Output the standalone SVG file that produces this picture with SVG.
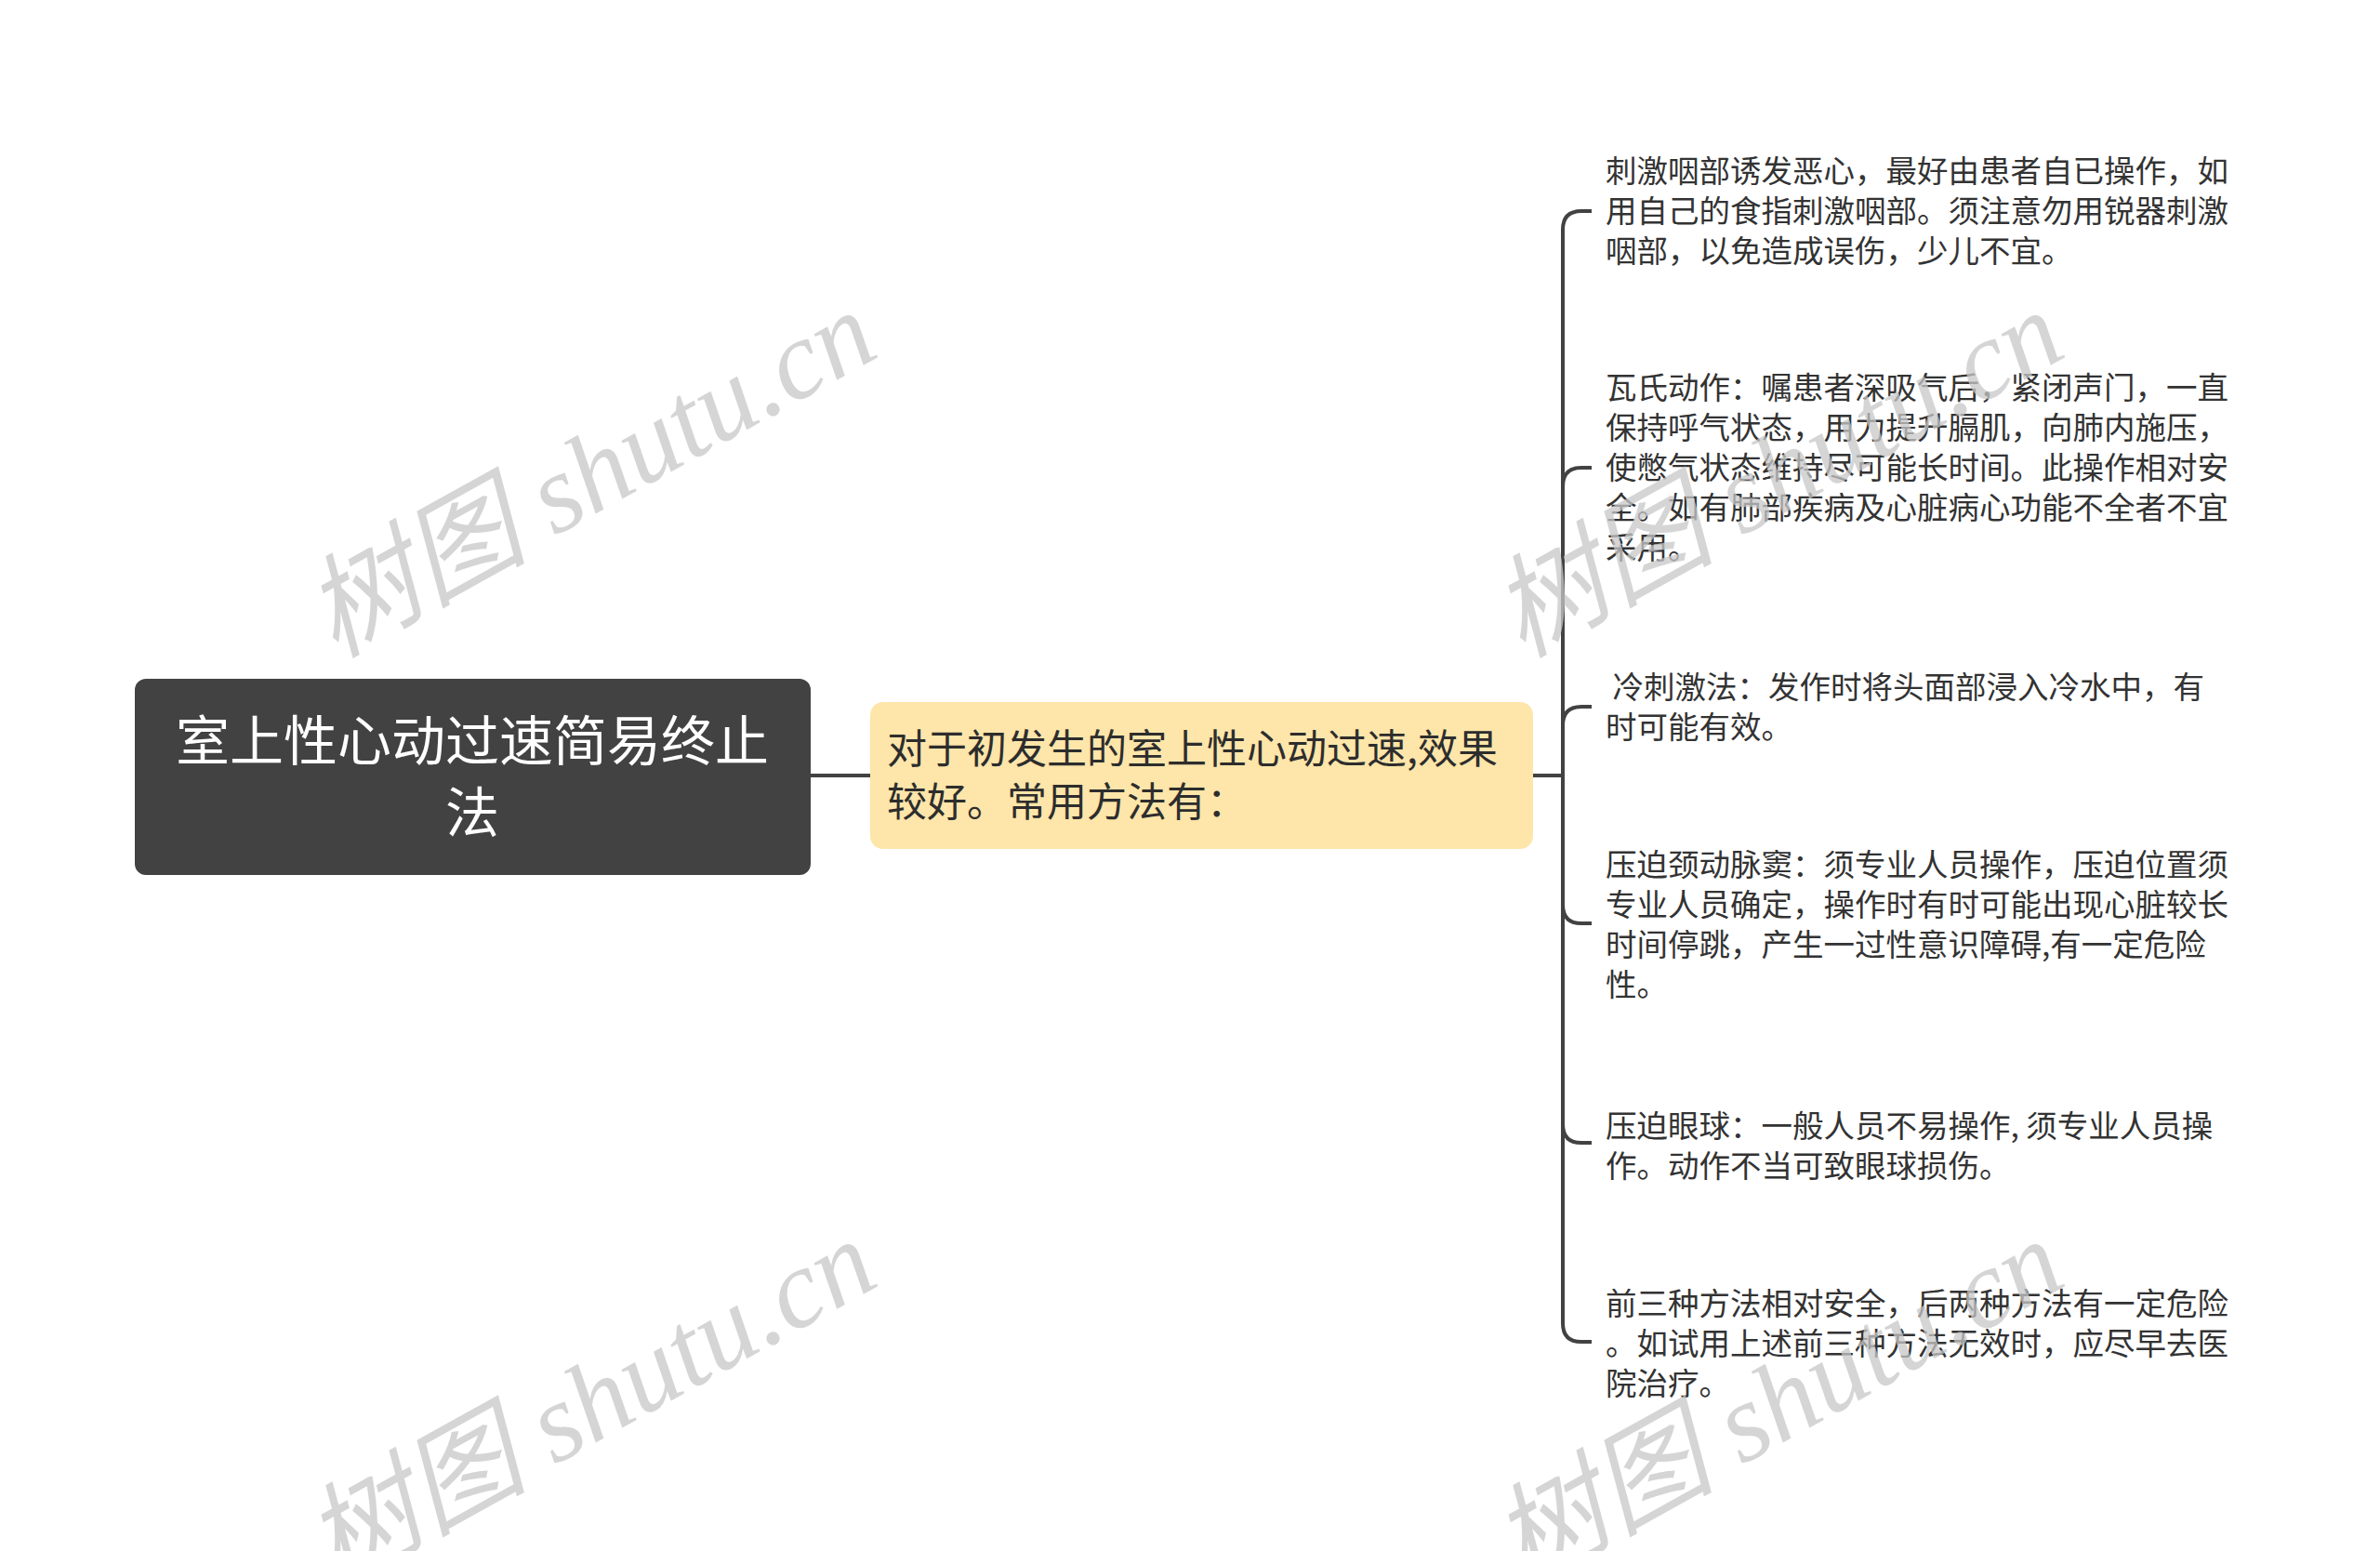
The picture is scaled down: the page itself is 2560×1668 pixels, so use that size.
<svg xmlns="http://www.w3.org/2000/svg" width="2560" height="1668" viewBox="0 0 2560 1668">
<style>
.cjk{font-family:"Noto Sans CJK SC","Liberation Sans",sans-serif;}
.root-box{fill:#424242;}
.root-txt{fill:#ffffff;font-size:58px;}
.sub-box{fill:#fee5a9;}
.sub-txt{fill:#2d2d2d;font-size:43px;}
.leaf-txt{fill:#333333;font-size:33.5px;}
.conn{fill:none;stroke:#424242;stroke-width:4;stroke-linecap:butt;}
.wm{font-family:"Liberation Serif","Noto Sans CJK SC",serif;font-style:italic;font-size:120px;fill:#c8c8c8;opacity:0.75;}
</style>
<rect width="2560" height="1668" fill="#ffffff"/>
<g id="connectors">
<path class="conn" d="M872 834 H936"/>
<path class="conn" d="M1649 834 H1681"/>
<path class="conn" d="M1681 834 V247 Q1681 227 1701 227 H1712"/>
<path class="conn" d="M1681 834 V523 Q1681 503 1701 503 H1712"/>
<path class="conn" d="M1681 834 V780 Q1681 760 1701 760 H1712"/>
<path class="conn" d="M1681 834 V973 Q1681 993 1701 993 H1712"/>
<path class="conn" d="M1681 834 V1209 Q1681 1229 1701 1229 H1712"/>
<path class="conn" d="M1681 834 V1423 Q1681 1443 1701 1443 H1712"/>
</g>
<g id="root">
<rect class="root-box" x="145" y="730" width="727" height="211" rx="12"/>
<text class="cjk root-txt" text-anchor="middle" x="508" y="818">室上性心动过速简易终止</text>
<text class="cjk root-txt" text-anchor="middle" x="508" y="895">法</text>
</g>
<g id="main">
<rect class="sub-box" x="936" y="755" width="713" height="158" rx="14"/>
<text class="cjk sub-txt" x="954" y="821">对于初发生的室上性心动过速,效果</text>
<text class="cjk sub-txt" x="954" y="878">较好。常用方法有：</text>
</g>
<g id="leaf1">
<text class="cjk leaf-txt" x="1727" y="196">刺激咽部诱发恶心，最好由患者自已操作，如</text>
<text class="cjk leaf-txt" x="1727" y="239">用自己的食指刺激咽部。须注意勿用锐器刺激</text>
<text class="cjk leaf-txt" x="1727" y="282">咽部，以免造成误伤，少儿不宜。</text>
</g>
<g id="leaf2">
<text class="cjk leaf-txt" x="1727" y="429">瓦氏动作：嘱患者深吸气后，紧闭声门，一直</text>
<text class="cjk leaf-txt" x="1727" y="472">保持呼气状态，用力提升膈肌，向肺内施压，</text>
<text class="cjk leaf-txt" x="1727" y="515">使憋气状态维持尽可能长时间。此操作相对安</text>
<text class="cjk leaf-txt" x="1727" y="558">全。如有肺部疾病及心脏病心功能不全者不宜</text>
<text class="cjk leaf-txt" x="1727" y="601">采用。</text>
</g>
<g id="leaf3">
<text class="cjk leaf-txt" x="1727" y="751" xml:space="preserve"> 冷刺激法：发作时将头面部浸入冷水中，有</text>
<text class="cjk leaf-txt" x="1727" y="794">时可能有效。</text>
</g>
<g id="leaf4">
<text class="cjk leaf-txt" x="1727" y="942">压迫颈动脉窦：须专业人员操作，压迫位置须</text>
<text class="cjk leaf-txt" x="1727" y="985">专业人员确定，操作时有时可能出现心脏较长</text>
<text class="cjk leaf-txt" x="1727" y="1028">时间停跳，产生一过性意识障碍,有一定危险</text>
<text class="cjk leaf-txt" x="1727" y="1071">性。</text>
</g>
<g id="leaf5">
<text class="cjk leaf-txt" x="1727" y="1223">压迫眼球：一般人员不易操作, 须专业人员操</text>
<text class="cjk leaf-txt" x="1727" y="1266">作。动作不当可致眼球损伤。</text>
</g>
<g id="leaf6">
<text class="cjk leaf-txt" x="1727" y="1414">前三种方法相对安全，后两种方法有一定危险</text>
<text class="cjk leaf-txt" x="1727" y="1457">。如试用上述前三种方法无效时，应尽早去医</text>
<text class="cjk leaf-txt" x="1727" y="1500">院治疗。</text>
</g>
<g id="watermarks">
<text class="wm" transform="translate(360 708) rotate(-29)">树图 shutu.cn</text>
<text class="wm" transform="translate(1637 708) rotate(-29)">树图 shutu.cn</text>
<text class="wm" transform="translate(360 1707) rotate(-29)">树图 shutu.cn</text>
<text class="wm" transform="translate(1637 1707) rotate(-29)">树图 shutu.cn</text>
</g>
</svg>
